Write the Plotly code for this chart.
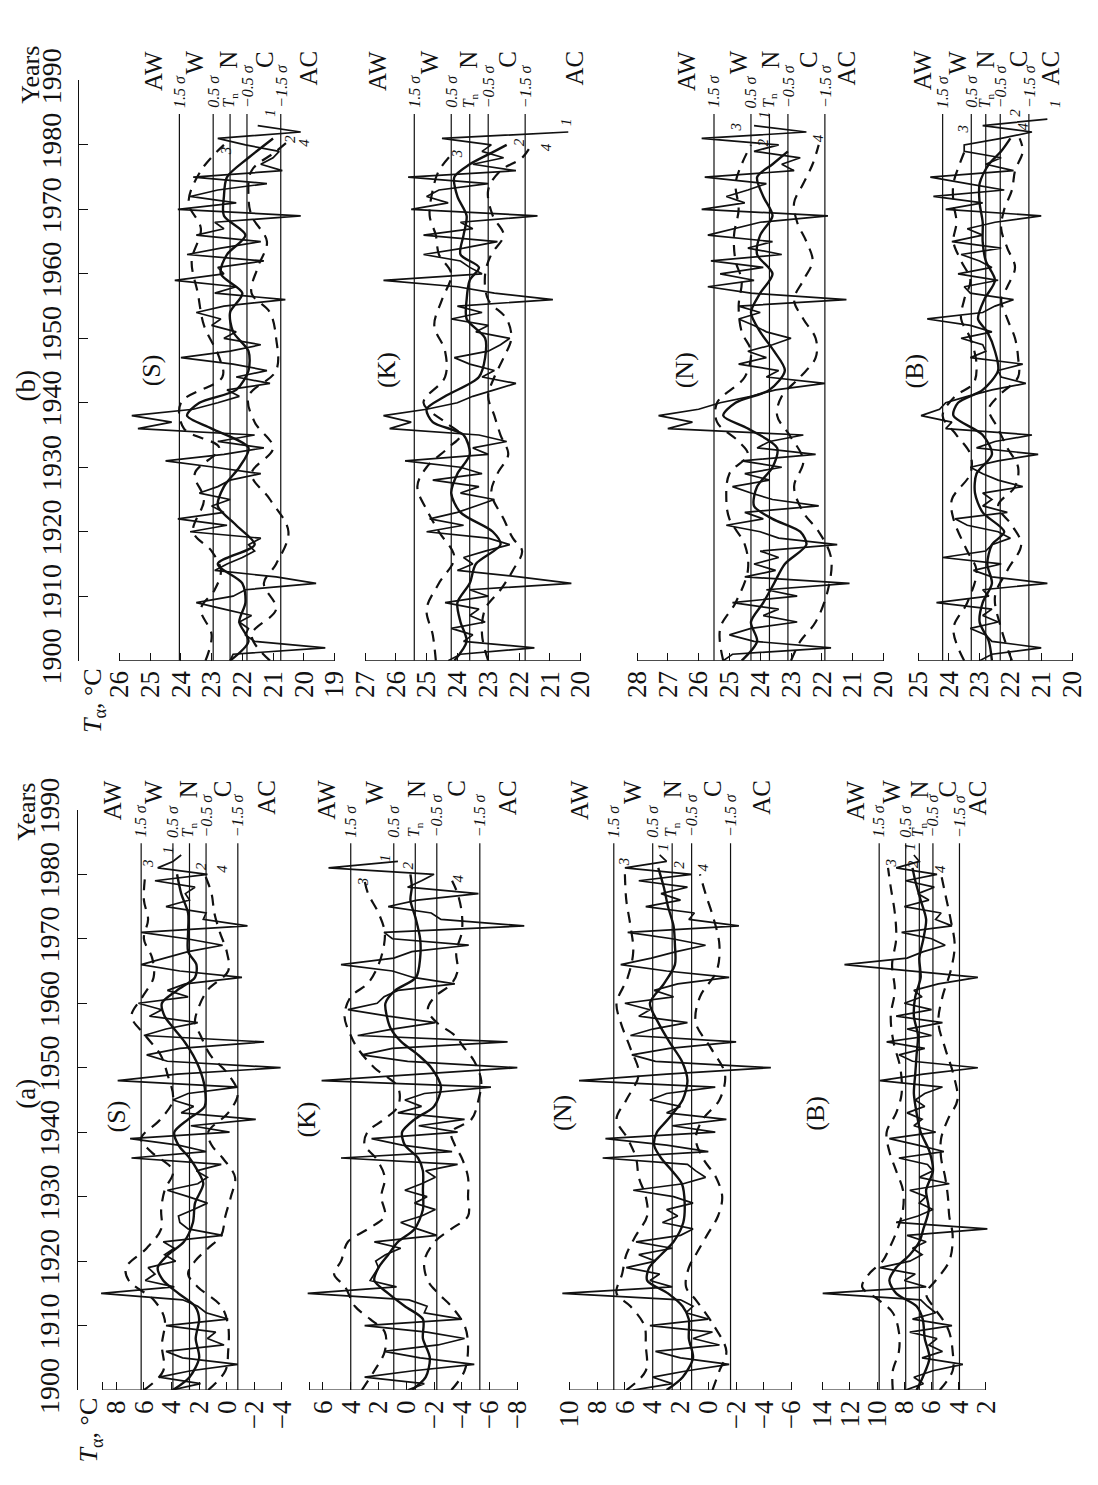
import plotly.graph_objects as go

W, H = 1098, 1485
FONT = "Liberation Serif"
INK = "#111111"
START = 1900

# ================= column (b) =================
# (S) annual values, 1900..1983
bS_t1 = [22.4, 22.3, 19.3, 21.6, 21.9, 21.8, 22.1, 21.7, 22.6, 23.5,
         22.3, 21.9, 19.6, 20.9, 22.9, 22.5, 22.0, 21.6, 21.8, 21.4,
         23.7, 22.5, 24.1, 22.6, 23.0, 22.4, 23.4, 22.8, 22.4, 21.4,
         22.9, 24.5, 22.6, 21.3, 22.8, 21.6, 25.4, 24.3, 25.6, 23.6,
         22.8, 22.1, 22.5, 21.1, 22.2, 21.2, 22.3, 24.0, 22.4, 21.4,
         22.6, 22.2, 23.0, 22.7, 23.5, 22.6, 20.6, 22.9, 22.2, 24.2,
         22.6, 22.8, 21.3, 23.8, 22.7, 21.4, 23.5, 22.6, 22.9, 20.1,
         24.1, 22.2, 23.7, 22.8, 21.2, 23.6, 20.7, 21.4, 21.0, 20.8,
         21.9, 22.8, 20.1, 21.5]
bS_y2 = [1900, 1903, 1906, 1909, 1912, 1915, 1918, 1921, 1924, 1927, 1930, 1933, 1936, 1938, 1940,
         1942, 1945, 1948, 1951, 1954, 1957, 1960, 1963, 1966, 1969, 1972, 1975, 1978, 1981]
bS_t2 = [22.4, 21.8, 22.1, 21.9, 22.0, 22.8, 21.6, 22.2, 22.8, 22.6, 22.1, 21.8, 23.0, 23.8, 23.4,
         22.2, 21.8, 21.8, 22.3, 22.4, 22.0, 22.7, 22.5, 21.9, 22.6, 22.6, 22.5, 21.8, 21.0]
bS_y3 = [1900, 1904, 1908, 1911, 1914, 1917, 1920, 1925, 1929, 1933, 1936, 1940, 1944, 1947, 1952,
         1957, 1962, 1967, 1971, 1976, 1980]
bS_t3 = [23.2, 23.0, 23.35, 22.9, 22.7, 23.0, 23.6, 23.25, 23.55, 22.75, 23.9, 24.0, 22.65, 22.75,
         23.25, 23.45, 23.65, 23.35, 23.75, 23.35, 22.6]
bS_y4 = [1900, 1904, 1908, 1912, 1915, 1920, 1925, 1929, 1933, 1937, 1941, 1945, 1950, 1954, 1957,
         1961, 1965, 1969, 1972, 1976, 1979, 1981]
bS_t4 = [21.1, 21.7, 20.9, 21.3, 20.9, 20.5, 21.1, 21.7, 21.0, 21.6, 21.8, 20.9, 20.9, 21.1, 21.7,
         21.5, 21.2, 21.7, 21.8, 21.7, 20.9, 20.4]
bS_levels = [24.05, 22.95, 22.4, 21.85, 20.75]

# (K) annual values, 1900..1982
bK_t1 = [24.3, 23.9, 21.5, 23.8, 23.5, 24.2, 23.1, 23.6, 23.3, 24.4,
         23.0, 23.6, 20.3, 22.0, 24.0, 23.5, 23.8, 23.1, 22.3, 23.0,
         25.0, 23.8, 24.9, 24.0, 23.4, 22.8, 23.9, 23.3, 24.8, 23.2,
         23.9, 25.7, 23.0, 23.5, 22.4, 23.3, 26.2, 25.5, 26.4, 25.0,
         24.0, 23.5, 22.8, 22.1, 23.2, 22.8, 23.6, 24.1, 23.0, 22.6,
         22.3, 23.4, 23.0, 24.2, 23.2, 24.0, 20.9, 22.8, 24.0, 26.4,
         23.2, 23.6, 23.9, 25.1, 23.8, 22.7, 25.1, 23.5, 23.9, 21.4,
         25.5, 24.3, 25.0, 24.6, 23.0, 25.6, 22.1, 23.5, 22.5, 23.2,
         22.9, 24.5, 20.4]
bK_y2 = [1900, 1903, 1906, 1909, 1912, 1915, 1918, 1920, 1923, 1926, 1929, 1932, 1935, 1937, 1939,
         1941, 1944, 1947, 1950, 1953, 1956, 1959, 1961, 1963, 1966, 1969, 1972, 1975, 1977, 1979, 1980]
bK_t2 = [24.1, 23.7, 23.9, 24.0, 23.6, 23.4, 22.6, 22.85, 23.9, 24.2, 24.0, 23.6, 23.8, 24.8, 25.0,
         24.4, 23.3, 23.1, 23.1, 23.7, 23.7, 23.6, 23.3, 23.9, 23.8, 23.7, 24.0, 24.1, 23.6, 22.8, 22.4]
bK_y3 = [1900, 1904, 1908, 1912, 1916, 1920, 1923, 1927, 1930, 1933, 1935, 1937, 1940, 1944, 1948,
         1952, 1956, 1960, 1963, 1966, 1969, 1973, 1976, 1979]
bK_t3 = [24.7, 24.8, 25.0, 24.6, 24.1, 24.6, 24.95, 25.3, 25.0, 24.3, 23.9, 24.4, 25.1, 24.4, 24.4,
         24.75, 24.5, 24.2, 24.6, 24.7, 24.9, 24.8, 24.6, 24.1]
bK_y4 = [1900, 1904, 1908, 1911, 1914, 1917, 1919, 1922, 1926, 1929, 1932, 1935, 1938, 1941, 1944,
         1947, 1950, 1953, 1956, 1960, 1963, 1966, 1969, 1973, 1976, 1978, 1980]
bK_t4 = [23.0, 23.2, 23.1, 22.6, 22.2, 21.9, 22.2, 22.5, 22.9, 22.7, 22.35, 22.6, 22.8, 23.0, 22.8,
         22.5, 22.25, 22.4, 23.0, 23.1, 22.9, 22.5, 22.85, 23.0, 22.6, 21.9, 21.6]
bK_levels = [25.4, 24.2, 23.6, 23.0, 21.8]

# (N) annual values, 1900..1983
bN_t1 = [25.2, 24.9, 21.7, 24.2, 25.0, 24.3, 22.8, 23.9, 23.4, 24.9,
         22.8, 23.8, 21.1, 24.5, 23.5, 24.2, 23.4, 24.0, 21.5, 23.4,
         24.0, 25.1, 23.9, 24.5, 22.1, 23.6, 24.3, 24.9, 23.7, 24.5,
         23.3, 24.6, 22.2, 24.1, 23.7, 22.6, 27.0, 26.2, 27.3, 26.0,
         25.3, 24.3, 23.5, 21.9, 23.8, 23.4, 24.7, 23.8, 24.4, 23.6,
         23.0, 23.8, 24.2, 24.7, 24.0, 24.7, 21.2, 24.3, 25.7, 24.2,
         25.3, 23.9, 25.6, 23.3, 24.4, 23.6, 25.7, 24.8, 24.0, 21.8,
         25.9, 24.5, 25.1, 24.4, 23.8, 25.8, 22.9, 23.3, 22.7, 24.2,
         23.4, 25.9, 22.5, 24.2]
bN_y2 = [1900, 1903, 1906, 1909, 1912, 1915, 1918, 1920, 1922, 1924, 1927, 1930, 1933, 1936, 1938,
         1940, 1942, 1945, 1948, 1951, 1954, 1957, 1960, 1963, 1966, 1969, 1972, 1975, 1977, 1979]
bN_t2 = [24.6, 24.1, 24.3, 23.9, 23.55, 23.2, 22.5, 22.7, 23.6, 24.2, 24.1, 23.6, 23.45, 24.4, 25.2,
         24.8, 23.7, 23.2, 23.55, 24.0, 24.3, 24.0, 23.6, 24.1, 24.0, 23.6, 23.9, 24.1, 23.6, 23.1]
bN_y3 = [1900, 1905, 1909, 1914, 1918, 1922, 1925, 1929, 1932, 1934, 1937, 1940, 1944, 1948, 1951,
         1955, 1959, 1962, 1966, 1970, 1974, 1977, 1980]
bN_t3 = [25.2, 25.3, 24.8, 24.4, 24.5, 25.0, 25.1, 25.0, 24.4, 24.7, 25.4, 25.4, 24.5, 24.3, 24.6,
         24.7, 24.6, 24.8, 24.85, 24.7, 24.8, 24.6, 24.3]
bN_y4 = [1900, 1903, 1906, 1911, 1916, 1920, 1923, 1927, 1931, 1935, 1938, 1941, 1944, 1947, 1950,
         1953, 1956, 1959, 1962, 1965, 1968, 1971, 1974, 1977, 1980]
bN_t4 = [23.0, 22.7, 22.2, 21.8, 21.7, 22.1, 22.6, 22.9, 22.6, 23.05, 23.45, 23.3, 22.7, 22.2, 22.2,
         22.6, 22.9, 22.6, 22.3, 22.5, 22.8, 22.9, 22.6, 22.3, 22.1]
bN_levels = [25.5, 24.3, 23.7, 23.1, 21.9]

# (B) annual values, 1900..1984
bB_t1 = [23.0, 22.6, 21.0, 22.6, 22.8, 23.3, 22.4, 22.9, 22.6, 24.4,
         22.7, 22.9, 20.8, 22.6, 23.2, 22.3, 24.2, 22.8, 22.6, 22.0,
         22.4, 23.4, 23.8, 22.1, 22.9, 22.6, 22.9, 21.6, 22.4, 22.9,
         23.3, 22.4, 21.1, 23.1, 22.5, 21.3, 24.1, 23.9, 24.9, 24.3,
         24.1, 23.4, 22.6, 21.5, 22.3, 22.4, 21.6, 23.3, 22.8, 22.9,
         23.6, 22.6, 23.3, 24.7, 22.9, 22.5, 21.9, 23.3, 23.5, 22.4,
         23.7, 22.6, 23.0, 23.6, 22.3, 23.9, 22.9, 23.4, 22.5, 21.0,
         24.1, 22.9, 24.5, 22.2, 23.4, 24.6, 21.9, 22.8, 22.3, 23.5,
         23.5, 22.3, 21.3, 22.9, 20.8]
bB_y2 = [1900, 1903, 1906, 1909, 1912, 1915, 1918, 1920, 1923, 1926, 1929, 1932, 1935, 1938, 1940,
         1942, 1945, 1948, 1951, 1953, 1956, 1959, 1962, 1965, 1968, 1971, 1974, 1977, 1979, 1981]
bB_t2 = [22.6, 22.7, 23.0, 22.9, 22.6, 22.75, 22.6, 22.2, 22.9, 23.15, 23.1, 22.6, 22.9, 23.85, 23.7,
         22.9, 22.4, 22.5, 22.75, 23.05, 22.85, 22.5, 22.8, 22.9, 22.9, 23.0, 23.0, 22.7, 22.3, 22.0]
bB_y3 = [1900, 1905, 1909, 1914, 1917, 1922, 1925, 1929, 1932, 1935, 1938, 1941, 1943, 1946, 1950,
         1953, 1956, 1959, 1962, 1965, 1968, 1971, 1974, 1977, 1980]
bB_t3 = [23.5, 23.85, 23.4, 23.1, 23.4, 23.85, 23.9, 23.3, 23.3, 23.75, 24.2, 23.8, 23.2, 23.1, 23.3,
         23.6, 23.5, 23.3, 23.6, 23.85, 23.75, 23.85, 23.85, 23.65, 23.4]
bB_y4 = [1900, 1905, 1910, 1914, 1918, 1921, 1924, 1927, 1930, 1933, 1936, 1939, 1941, 1944, 1947,
         1950, 1953, 1956, 1958, 1961, 1964, 1967, 1970, 1973, 1976, 1979, 1981]
bB_t4 = [21.95, 22.3, 22.5, 22.1, 21.65, 21.95, 22.4, 21.85, 21.75, 22.1, 22.4, 22.7, 22.4, 21.75,
         21.75, 21.85, 22.1, 22.3, 22.1, 21.85, 22.1, 22.3, 22.2, 21.95, 21.85, 21.6, 21.7]
bB_levels = [24.2, 23.27, 22.8, 22.33, 21.4]

# ================= column (a) =================
# (S) annual values, 1900..1983
aS_t1 = [4.0, 1.9, 4.9, 2.6, -0.8, 3.2, 4.4, 0.2, 1.4, 0.8,
         4.4, -0.1, 1.5, 2.1, 3.2, 9.1, 3.8, 5.9, 5.2, 5.7,
         3.7, 4.5, 3.8, 4.6, 0.3, 2.8, 3.4, 3.5, 2.4, 1.4,
         2.8, 4.3, 2.1, 1.4, 2.2, 0.4, 6.9, 1.5, 3.5, 7.0,
         -0.2, 2.6, -2.1, 3.3, 2.4, 3.9, 2.8, -0.8, 7.9, 3.6,
         -3.9, 4.3, 5.8, 3.4, -2.7, 6.0, 4.4, 2.1, 5.6, 4.7,
         6.4, 2.8, 4.3, 3.0, -1.1, 3.4, 6.2, 4.5, 2.8, 0.3,
         2.9, 6.2, -1.5, 1.7, 1.5, 4.4, 2.7, 3.0, 2.3, 5.2,
         1.4, 5.0, 3.9, 3.3]
aS_y2 = [1900, 1902, 1905, 1908, 1911, 1913, 1915, 1917, 1919, 1921, 1923, 1926, 1929, 1932, 1934,
         1936, 1938, 1940, 1942, 1944, 1947, 1950, 1952, 1954, 1956, 1958, 1960, 1962, 1964, 1966,
         1968, 1971, 1974, 1977, 1980]
aS_t2 = [3.9, 2.7, 2.0, 2.25, 2.0, 2.3, 3.5, 4.6, 5.0, 4.25, 3.1, 2.45, 2.3, 1.7, 2.1,
         2.7, 3.5, 3.8, 2.8, 1.6, 1.6, 2.0, 2.45, 3.05, 3.8, 4.5, 4.7, 3.6, 2.3, 2.2,
         2.8, 2.8, 2.8, 3.3, 3.6]
aS_y3 = [1900, 1903, 1907, 1911, 1914, 1917, 1919, 1922, 1925, 1928, 1931, 1934, 1937, 1939, 1942,
         1945, 1949, 1952, 1955, 1958, 1961, 1964, 1967, 1970, 1973, 1976, 1980]
aS_t3 = [6.0, 4.6, 4.7, 4.5, 5.3, 7.1, 7.3, 5.8, 4.75, 4.75, 4.5, 3.9, 5.5, 6.2, 4.8,
         3.9, 4.3, 4.8, 5.9, 6.9, 6.1, 5.3, 5.4, 6.0, 5.7, 6.0, 5.9]
aS_y4 = [1900, 1903, 1906, 1910, 1913, 1916, 1918, 1920, 1922, 1924, 1927, 1930, 1933, 1936, 1938,
         1940, 1943, 1946, 1949, 1952, 1955, 1957, 1959, 1962, 1965, 1968, 1971, 1974, 1977, 1980]
aS_t4 = [1.35, 0.1, -0.1, -0.1, 0.4, 2.1, 2.8, 2.3, 1.35, 0.4, 0.1, -0.3, -0.6, 0.3, 1.1,
         1.35, -0.1, -0.8, -0.1, 1.2, 1.9, 2.3, 2.1, 1.4, -0.1, 0.0, 0.5, 0.9, 1.1, 1.6]
aS_levels = [6.2, 3.9, 2.7, 1.5, -0.8]

# (K) annual values, 1900..1982
aK_t1 = [-0.1, -1.3, 3.0, -0.5, -4.9, -1.0, 1.6, -2.3, -4.2, -1.5,
         3.0, -4.0, -1.3, -1.5, -0.2, 7.1, 0.7, 2.6, 2.3, 2.0,
         2.2, 1.5, 0.4, 2.3, -2.2, -0.8, 0.4, -1.1, -2.1, -0.6,
         -1.5, 0.1, -1.1, -2.1, -1.4, -3.7, 4.7, -3.3, 0.3, 2.5,
         -3.7, -0.9, -4.2, 0.6, -1.1, 0.1, -1.3, -6.1, 6.1, -0.6,
         -8.0, -0.1, 3.2, 1.0, -7.3, 3.5, 1.0, -2.1, 1.3, 4.2,
         2.1, 1.6, 0.6, -3.5, -0.5, 1.0, 4.7, 0.9, -0.4, -4.5,
         1.0, 1.6, -8.5, -2.5, -1.8, 1.3, -0.8, -5.2, -0.1, -1.1,
         -2.0, 5.6, 0.6]
aK_y2 = [1900, 1902, 1905, 1908, 1911, 1913, 1915, 1917, 1919, 1921, 1923, 1925, 1928, 1931, 1934,
         1936, 1938, 1940, 1942, 1944, 1947, 1950, 1952, 1954, 1956, 1958, 1960, 1962, 1964, 1967,
         1970, 1973, 1976, 1978, 1980]
aK_t2 = [-0.4, -1.4, -1.7, -1.2, -1.2, 0.1, 1.3, 2.3, 2.0, 1.3, 0.6, -0.6, -1.2, -1.2, -1.2,
         -0.85, 0.1, 0.3, -0.6, -2.0, -2.5, -1.8, -0.85, 0.35, 1.1, 1.4, 1.5, 0.8, -0.7, -1.0,
         -1.0, -0.7, -0.3, -0.4, -0.3]
aK_y3 = [1900, 1903, 1906, 1909, 1911, 1913, 1916, 1918, 1920, 1923, 1925, 1927, 1930, 1933, 1936,
         1938, 1940, 1942, 1944, 1947, 1950, 1953, 1955, 1958, 1961, 1963, 1965, 1968, 1971, 1974,
         1977, 1979]
aK_t3 = [3.2, 2.3, 1.55, 1.55, 2.6, 3.7, 4.4, 5.2, 4.7, 4.2, 2.75, 1.55, 1.8, 1.55, 2.2,
         3.0, 2.8, 1.6, 0.6, 0.6, 2.3, 3.5, 4.0, 4.45, 4.0, 2.8, 2.2, 1.7, 1.55, 2.0,
         2.75, 3.0]
aK_y4 = [1900, 1903, 1907, 1910, 1913, 1915, 1917, 1920, 1923, 1925, 1927, 1930, 1933, 1936, 1938,
         1940, 1942, 1945, 1948, 1951, 1953, 1955, 1957, 1959, 1961, 1963, 1965, 1968, 1971, 1974,
         1977, 1979]
aK_t4 = [-3.25, -4.2, -4.45, -4.2, -3.25, -2.3, -1.55, -1.3, -2.05, -3.25, -4.45, -4.45, -4.45,
         -4.0, -3.5, -3.25, -4.7, -5.2, -5.4, -4.9, -4.2, -3.5, -2.2, -1.55, -2.05, -3.25, -3.7,
         -3.6, -4.0, -4.0, -3.7, -3.3]
aK_levels = [4.0, 0.9, -0.65, -2.2, -5.3]

# (N) annual values, 1900..1983
aN_t1 = [5.4, 2.6, 4.0, 1.5, -1.5, 2.0, 3.8, -0.8, 1.1, -0.3,
         4.2, 0.0, 1.6, 1.1, 2.0, 10.5, 2.6, 4.2, 3.5, 5.9,
         3.8, 5.0, 2.6, 5.2, 2.0, 1.1, 3.3, 2.2, 3.0, 1.1,
         2.5, 5.4, 1.8, 0.2, 0.9, 1.5, 7.6, 0.0, 3.0, 7.4,
         -0.5, 2.6, -1.3, 3.0, 2.0, 4.2, 3.0, -0.5, 9.3, 3.0,
         -4.5, 3.8, 5.5, 2.8, -2.0, 5.6, 4.0, 1.5, 5.0, 4.2,
         6.0, 2.5, 3.9, 2.2, -1.5, 3.0, 6.3, 4.1, 2.3, 0.2,
         2.6, 5.8, -2.2, 1.4, 1.0, 4.5, 2.0, 3.4, 1.5, 5.0,
         1.2, 6.0, 3.0, 3.5]
aN_y2 = [1900, 1902, 1905, 1908, 1911, 1913, 1915, 1917, 1919, 1921, 1923, 1926, 1929, 1932, 1934,
         1936, 1938, 1940, 1942, 1945, 1948, 1951, 1954, 1957, 1960, 1963, 1966, 1969, 1972, 1975,
         1978, 1981]
aN_t2 = [3.0, 1.85, 1.1, 1.4, 1.4, 1.85, 2.9, 4.4, 4.25, 3.4, 2.5, 1.8, 1.7, 1.9, 2.6,
         3.4, 3.9, 3.7, 2.9, 1.85, 1.5, 1.9, 2.8, 3.6, 4.2, 3.2, 2.4, 2.4, 2.5, 2.9,
         3.2, 3.6]
aN_y3 = [1900, 1903, 1907, 1910, 1913, 1915, 1918, 1921, 1924, 1927, 1930, 1933, 1936, 1939, 1942,
         1945, 1949, 1953, 1957, 1960, 1964, 1968, 1972, 1976, 1980]
aN_t3 = [5.9, 4.5, 4.5, 4.6, 5.6, 6.6, 6.2, 5.9, 5.2, 4.4, 4.5, 5.0, 5.2, 5.8, 6.6,
         5.9, 5.0, 5.6, 6.3, 6.6, 5.8, 5.4, 5.6, 5.9, 6.0]
aN_y4 = [1900, 1903, 1906, 1910, 1914, 1916, 1919, 1921, 1924, 1927, 1930, 1933, 1936, 1939, 1942,
         1945, 1949, 1953, 1957, 1961, 1965, 1969, 1973, 1977, 1980]
aN_t4 = [-0.3, -0.8, -1.3, -0.4, 0.9, 1.6, 1.4, 0.9, 0.1, -0.7, -1.0, -0.55, 0.4, 0.9, 0.4,
         -0.8, -1.2, -0.2, 0.9, 0.6, -0.6, -0.8, -0.4, 0.2, 0.6]
aN_levels = [6.8, 4.0, 2.6, 1.2, -1.6]

# (B) annual values, 1900..1983
aB_t1 = [7.9, 6.6, 7.3, 5.9, 3.7, 6.7, 5.2, 6.2, 5.6, 7.6,
         4.5, 7.4, 5.7, 6.3, 6.8, 14.0, 6.4, 8.0, 7.2, 9.8,
         7.6, 6.7, 7.4, 6.4, 7.8, 1.9, 8.6, 7.0, 5.9, 6.9,
         6.4, 7.6, 4.7, 6.9, 5.9, 6.3, 8.4, 5.1, 7.0, 9.1,
         5.7, 7.3, 6.7, 7.8, 6.5, 7.2, 6.5, 5.2, 9.8, 6.6,
         2.6, 7.4, 8.4, 6.5, 9.3, 6.0, 7.8, 5.2, 8.6, 6.0,
         8.0, 6.7, 7.3, 5.5, 2.6, 7.5, 12.4, 7.8, 6.6, 5.0,
         6.0, 8.2, 4.5, 5.7, 5.3, 8.0, 6.2, 7.0, 5.8, 7.9,
         5.6, 8.6, 6.9, 7.3]
aB_y2 = [1900, 1902, 1905, 1908, 1911, 1913, 1915, 1917, 1919, 1921, 1923, 1925, 1928, 1931, 1934,
         1937, 1940, 1943, 1946, 1949, 1952, 1955, 1958, 1961, 1964, 1967, 1970, 1973, 1976, 1979,
         1981]
aB_t2 = [7.1, 6.65, 6.15, 6.5, 6.65, 7.1, 8.6, 9.1, 8.6, 7.6, 6.9, 6.6, 6.2, 6.4, 5.9,
         6.15, 6.8, 7.1, 7.3, 7.2, 7.1, 7.0, 7.3, 7.2, 6.8, 6.9, 6.6, 6.4, 6.8, 7.2,
         7.4]
aB_y3 = [1900, 1903, 1906, 1909, 1912, 1914, 1916, 1918, 1920, 1922, 1925, 1928, 1931, 1934, 1937,
         1940, 1943, 1946, 1950, 1954, 1958, 1962, 1966, 1970, 1974, 1978, 1981]
aB_t3 = [8.85, 8.85, 8.4, 8.4, 8.85, 9.9, 11.1, 10.6, 9.6, 9.1, 8.5, 8.1, 8.1, 8.6, 9.1,
         9.3, 8.6, 8.2, 8.3, 8.8, 9.0, 8.7, 8.9, 8.6, 8.7, 9.0, 9.2]
aB_y4 = [1900, 1903, 1906, 1909, 1911, 1913, 1915, 1917, 1920, 1924, 1927, 1930, 1933, 1936, 1939,
         1942, 1945, 1949, 1953, 1957, 1961, 1965, 1969, 1973, 1977, 1980]
aB_t4 = [5.4, 4.45, 4.45, 4.7, 5.2, 5.9, 6.4, 5.7, 4.7, 4.45, 4.7, 4.8, 5.0, 5.3, 5.3,
         4.8, 4.1, 4.4, 5.0, 5.5, 5.2, 4.6, 4.3, 4.6, 5.0, 5.3]
aB_levels = [9.85, 7.9, 6.9, 5.9, 3.95]

YEAR_TICKS = [1900, 1910, 1920, 1930, 1940, 1950, 1960, 1970, 1980, 1990]
LEVEL_TEXT = ["<i>1.5 σ</i>", "<i>0.5 σ</i>", "<i>T</i><sub>n</sub>", "<i>−0.5 σ</i>", "<i>−1.5 σ</i>"]
CLASS_TEXT = ["AW", "W", "N", "C", "AC"]

DATA = {
    "bS": dict(t1=bS_t1, y2=bS_y2, t2=bS_t2, y3=bS_y3, t3=bS_t3, y4=bS_y4, t4=bS_t4, lv=bS_levels),
    "bK": dict(t1=bK_t1, y2=bK_y2, t2=bK_t2, y3=bK_y3, t3=bK_t3, y4=bK_y4, t4=bK_t4, lv=bK_levels),
    "bN": dict(t1=bN_t1, y2=bN_y2, t2=bN_t2, y3=bN_y3, t3=bN_t3, y4=bN_y4, t4=bN_t4, lv=bN_levels),
    "bB": dict(t1=bB_t1, y2=bB_y2, t2=bB_t2, y3=bB_y3, t3=bB_t3, y4=bB_y4, t4=bB_t4, lv=bB_levels),
    "aS": dict(t1=aS_t1, y2=aS_y2, t2=aS_t2, y3=aS_y3, t3=aS_t3, y4=aS_y4, t4=aS_t4, lv=aS_levels),
    "aK": dict(t1=aK_t1, y2=aK_y2, t2=aK_t2, y3=aK_y3, t3=aK_t3, y4=aK_y4, t4=aK_t4, lv=aK_levels),
    "aN": dict(t1=aN_t1, y2=aN_y2, t2=aN_t2, y3=aN_y3, t3=aN_t3, y4=aN_y4, t4=aN_t4, lv=aN_levels),
    "aB": dict(t1=aB_t1, y2=aB_y2, t2=aB_t2, y3=aB_y3, t3=aB_t3, y4=aB_y4, t4=aB_t4, lv=aB_levels),
}

# ---------- layout spec (pixel geometry, label placement) ----------
ROWS = {"b": dict(y1900=645, y1990=42, axis_x=70.0, class_top=9),
        "a": dict(y1900=1403, y1990=800, axis_x=68.5, class_top=767)}

PANELS = [
    dict(key="bS", row="b", v0=26, v1=19, px0=111.5, px1=326.5, step=-1, extra=[], ext=0.8,
         name="(S)", name_xy=(24.95, 1945), cls=[24.9, 23.55, 22.43, 21.3, 19.85],
         nums=[("1", 21.1, 1985.0), ("2", 20.45, 1980.9), ("3", 22.55, 1979.1), ("4", 20.0, 1980.3)]),
    dict(key="bK", row="b", v0=27, v1=20, px0=357.0, px1=572.6, step=-1, extra=[], ext=0.8,
         name="(K)", name_xy=(26.3, 1945), cls=[26.6, 24.9, 23.65, 22.4, 20.2],
         nums=[("1", 20.5, 1983.6), ("2", 22.0, 1980.4), ("3", 24.0, 1978.6), ("4", 21.1, 1979.6)]),
    dict(key="bN", row="b", v0=28, v1=20, px0=629.0, px1=875.4, step=-1, extra=[], ext=0.8,
         name="(N)", name_xy=(26.45, 1945), cls=[26.4, 24.7, 23.65, 22.45, 21.2],
         nums=[("1", 23.9, 1984.7), ("2", 23.9, 1980.4), ("3", 24.8, 1982.8), ("4", 22.1, 1981.0)]),
    dict(key="bB", row="b", v0=25, v1=20, px0=910.0, px1=1064.0, step=-1, extra=[], ext=0.8,
         name="(B)", name_xy=(25.1, 1945), cls=[24.85, 23.7, 22.8, 21.75, 20.7],
         nums=[("1", 20.55, 1986.4), ("2", 21.85, 1985.0), ("3", 23.55, 1982.5), ("4", 21.6, 1982.8)]),
    dict(key="aS", row="a", v0=9, v1=-4, px0=94.5, px1=274.0, step=-2, extra=[9], ext=1.5,
         name="(S)", name_xy=(8.0, 1942.5), cls=[8.3, 5.35, 2.8, 0.3, -2.85],
         nums=[("1", 4.25, 1983.8), ("2", 1.85, 1981.3), ("3", 5.7, 1981.6), ("4", 0.3, 1980.8)]),
    dict(key="aK", row="a", v0=7, v1=-8, px0=301.1, px1=509.3, step=-2, extra=[7], ext=1.5,
         name="(K)", name_xy=(7.2, 1942.0), cls=[5.8, 2.3, -0.7, -3.6, -7.3],
         nums=[("1", 1.55, 1982.5), ("2", -0.1, 1981.3), ("3", 3.1, 1978.8), ("4", -3.7, 1979.3)]),
    dict(key="aN", row="a", v0=10, v1=-6, px0=561.3, px1=783.7, step=-2, extra=[], ext=1.5,
         name="(N)", name_xy=(10.45, 1943.0), cls=[9.3, 5.5, 2.6, -0.3, -3.8],
         nums=[("1", 3.3, 1984.3), ("2", 2.1, 1981.5), ("3", 6.0, 1982.0), ("4", 0.4, 1981.0)]),
    dict(key="aB", row="a", v0=14, v1=2, px0=814.7, px1=978.0, step=-2, extra=[], ext=1.5,
         name="(B)", name_xy=(14.5, 1943.0), cls=[11.6, 9.0, 6.9, 4.8, 2.6],
         nums=[("1", 7.6, 1984.3), ("2", 7.4, 1981.5), ("3", 9.0, 1981.8), ("4", 5.4, 1980.8)]),
]

SIG_TOP = 1984.8
LEVEL_Y = 1985.4
DASH = "11px,8px"


def fmt(v):
    return ("−" + str(abs(v))) if v < 0 else str(v)


fig = go.Figure()
layout = dict(width=W, height=H, margin=dict(l=0, r=0, t=0, b=0),
              paper_bgcolor="white", plot_bgcolor="rgba(0,0,0,0)", showlegend=False,
              font=dict(family=FONT, color=INK))
shapes, annotations = [], []

for i, p in enumerate(PANELS, start=1):
    xr = "x" if i == 1 else f"x{i}"
    yr = "y" if i == 1 else f"y{i}"
    xname = "xaxis" if i == 1 else f"xaxis{i}"
    yname = "yaxis" if i == 1 else f"yaxis{i}"
    d = DATA[p["key"]]
    row = ROWS[p["row"]]

    common = dict(xaxis=xr, yaxis=yr, hoverinfo="skip", showlegend=False, mode="lines")
    for lv in d["lv"]:
        fig.add_trace(go.Scatter(x=[lv, lv], y=[START, SIG_TOP],
                                 line=dict(color=INK, width=1.2), **common))
    fig.add_trace(go.Scatter(x=d["t3"], y=d["y3"],
                             line=dict(color=INK, width=2.2, dash=DASH, shape="spline", smoothing=1.0),
                             **common))
    fig.add_trace(go.Scatter(x=d["t4"], y=d["y4"],
                             line=dict(color=INK, width=2.2, dash=DASH, shape="spline", smoothing=1.0),
                             **common))
    fig.add_trace(go.Scatter(x=d["t2"], y=d["y2"],
                             line=dict(color=INK, width=2.4, shape="spline", smoothing=0.8), **common))
    years1 = list(range(START, START + len(d["t1"])))
    fig.add_trace(go.Scatter(x=d["t1"], y=years1, line=dict(color=INK, width=1.7), **common))

    # axes
    s = (p["px1"] - p["px0"]) / (p["v0"] - p["v1"])
    e = p["ext"]
    ticks = list(range(p["v0"] if not p["extra"] else p["v0"] - 1, p["v1"] + p["step"], p["step"]))
    tickvals = ticks + p["extra"]
    ticktext = [fmt(v) for v in ticks] + [" "] * len(p["extra"])
    layout[xname] = dict(domain=[(p["px0"] - e * s) / W, (p["px1"] + e * s) / W],
                         range=[p["v0"] + e, p["v1"] - e], anchor=yr,
                         showline=False, showgrid=False, zeroline=False,
                         ticks="inside", ticklen=8, tickwidth=1.4, tickcolor=INK,
                         tickvals=tickvals, ticktext=ticktext, tickangle=-90,
                         tickfont=dict(family=FONT, size=27, color=INK), ticklabelstandoff=4)
    ydom = [1 - row["y1900"] / H, 1 - row["y1990"] / H]
    if p["key"].endswith("S"):
        layout[yname] = dict(domain=ydom, range=[1900, 1990], anchor="free", position=row["axis_x"] / W,
                             showline=True, linecolor=INK, linewidth=1.4, showgrid=False, zeroline=False,
                             ticks="inside", ticklen=9, tickwidth=1.4, tickcolor=INK,
                             tickvals=YEAR_TICKS, tickangle=-90,
                             tickfont=dict(family=FONT, size=28, color=INK), ticklabelstandoff=6)
    else:
        layout[yname] = dict(domain=ydom, range=[1900, 1990], visible=False)

    shapes.append(dict(type="line", xref=xr, yref=yr, x0=p["v0"], x1=p["v1"], y0=START, y1=START,
                       line=dict(color=INK, width=1.4)))

    for lv, txt in zip(d["lv"], LEVEL_TEXT):
        annotations.append(dict(x=lv, y=LEVEL_Y, xref=xr, yref=yr, text=txt, showarrow=False,
                                textangle=-90, xanchor="center", yanchor="bottom",
                                font=dict(family=FONT, size=16, color=INK)))
    for cx, txt in zip(p["cls"], CLASS_TEXT):
        annotations.append(dict(x=cx, y=1 - row["class_top"] / H, xref=xr, yref="paper", text=txt,
                                showarrow=False, textangle=-90, xanchor="center", yanchor="top",
                                font=dict(family=FONT, size=25, color=INK)))
    annotations.append(dict(x=p["name_xy"][0], y=p["name_xy"][1], xref=xr, yref=yr, text=p["name"],
                            showarrow=False, textangle=-90, xanchor="center", yanchor="middle",
                            font=dict(family=FONT, size=26, color=INK)))
    for txt, nx, ny in p["nums"]:
        annotations.append(dict(x=nx, y=ny, xref=xr, yref=yr, text=f"<i>{txt}</i>", showarrow=False,
                                textangle=-90, xanchor="center", yanchor="middle",
                                font=dict(family=FONT, size=15, color=INK)))

# global labels (pixel positions)
for txt, px, py, size in [("(b)", 18, 360, 27), ("(a)", 18, 1095, 27),
                          ("Years", 23, 36, 26), ("Years", 19, 802, 26),
                          ("<i>T</i><sub>α</sub>, °C", 86, 687, 26),
                          ("<i>T</i><sub>α</sub>, °C", 82, 1445, 26)]:
    annotations.append(dict(x=px / W, y=1 - py / H, xref="paper", yref="paper", text=txt,
                            showarrow=False, textangle=-90, xanchor="center", yanchor="middle",
                            font=dict(family=FONT, size=size, color=INK)))

layout["shapes"] = shapes
layout["annotations"] = annotations
fig.update_layout(**layout)
fig.write_html("out.html")
